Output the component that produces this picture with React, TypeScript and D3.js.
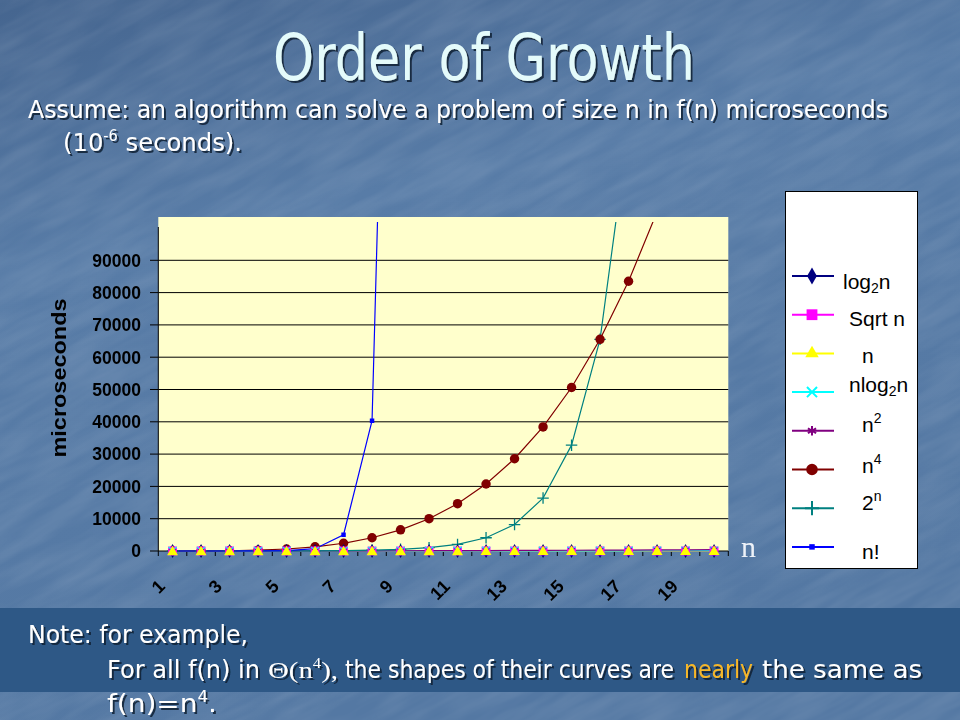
import * as d3 from 'd3';

// problem sizes on the x axis
const N = [1, 2, 3, 4, 5, 6, 7, 8, 9, 10, 11, 12, 13, 14, 15, 16, 17, 18, 19, 20];

// f(n) values, microseconds
const LOG2N = [0, 1, 1.58, 2, 2.32, 2.58, 2.81, 3, 3.17, 3.32, 3.46, 3.58, 3.7, 3.81, 3.91, 4, 4.09, 4.17, 4.25, 4.32];
const SQRTN = [1, 1.41, 1.73, 2, 2.24, 2.45, 2.65, 2.83, 3, 3.16, 3.32, 3.46, 3.61, 3.74, 3.87, 4, 4.12, 4.24, 4.36, 4.47];
const LINEAR = [1, 2, 3, 4, 5, 6, 7, 8, 9, 10, 11, 12, 13, 14, 15, 16, 17, 18, 19, 20];
const NLOG2N = [0, 2, 4.75, 8, 11.6, 15.5, 19.7, 24, 28.5, 33.2, 38.1, 43, 48.1, 53.3, 58.6, 64, 69.5, 75.1, 80.7, 86.4];
const NSQ = [1, 4, 9, 16, 25, 36, 49, 64, 81, 100, 121, 144, 169, 196, 225, 256, 289, 324, 361, 400];
const N4 = [1, 16, 81, 256, 625, 1296, 2401, 4096, 6561, 10000, 14641, 20736, 28561, 38416, 50625, 65536, 83521, 104976, 130321, 160000];
const POW2 = [2, 4, 8, 16, 32, 64, 128, 256, 512, 1024, 2048, 4096, 8192, 16384, 32768, 65536, 131072, 262144, 524288, 1048576];
const FACT = [1, 2, 6, 24, 120, 720, 5040, 40320, 362880, 3628800, 39916800, 479001600, 6227020800, 87178291200, 1.31e12, 2.09e13, 3.56e14, 6.4e15, 1.22e17, 2.43e18];

const Y_TICKS = [0, 10000, 20000, 30000, 40000, 50000, 60000, 70000, 80000, 90000];
const X_LABELS = [1, 3, 5, 7, 9, 11, 13, 15, 17, 19];

type Series = { key: string; values: number[]; color: string; symbol: d3.SymbolType; size: number; stroke?: number };

const SERIES: Series[] = [
  { key: 'log2n', values: LOG2N, color: '#000080', symbol: d3.symbolDiamond, size: 55 },
  { key: 'sqrt', values: SQRTN, color: '#ff00ff', symbol: d3.symbolSquare, size: 78 },
  { key: 'n', values: LINEAR, color: '#ffff00', symbol: d3.symbolTriangle, size: 52 },
  { key: 'nlog2n', values: NLOG2N, color: '#00ffff', symbol: d3.symbolTimes, size: 45, stroke: 1.3 },
  { key: 'n2', values: NSQ, color: '#800080', symbol: d3.symbolAsterisk, size: 42, stroke: 1 },
  { key: 'n4', values: N4, color: '#800000', symbol: d3.symbolCircle, size: 70 },
  { key: '2n', values: POW2, color: '#008080', symbol: d3.symbolPlus, size: 45, stroke: 1.3 },
  { key: 'nfact', values: FACT, color: '#0000ff', symbol: d3.symbolSquare, size: 20 },
];

// the small series sit on top of the big ones near zero
const MARKER_ORDER = ['nfact', '2n', 'n4', 'log2n', 'sqrt', 'nlog2n', 'n2', 'n'];

const LEGEND_LABELS: { dx: number; dy: number; main: string; sub?: string; sup?: string; tail?: string }[] = [
  { dx: 843, dy: 6, main: 'log', sub: '2', tail: 'n' },
  { dx: 849, dy: 4, main: 'Sqrt n' },
  { dx: 862, dy: 2, main: 'n' },
  { dx: 849, dy: -7, main: 'nlog', sub: '2', tail: 'n' },
  { dx: 862, dy: -6, main: 'n', sup: '2' },
  { dx: 862, dy: -4, main: 'n', sup: '4' },
  { dx: 862, dy: -6, main: '2', sup: 'n' },
  { dx: 862, dy: 5, main: 'n!' },
];

const PLOT = { left: 158.3, right: 728.3, top: 217, bottom: 551 };
const SANS = 'DejaVu Sans, Verdana, sans-serif';
const ARIAL = 'Liberation Sans, Arial, sans-serif';
const SQUEEZE = 0.88; // slide font is narrower than DejaVu

export default function App() {
  const x = d3.scaleBand<number>().domain(N).range([PLOT.left, PLOT.right]);
  const cx = (n: number) => (x(n) ?? 0) + x.bandwidth() / 2;
  const y = d3.scaleLinear().domain([0, 100000]).range([PLOT.bottom, 228]);

  const line = d3.line<number>()
    .x((_, i) => cx(N[i]))
    .y((v) => y(Math.min(v, 1e7)));

  const byKey = new Map(SERIES.map((s) => [s.key, s]));
  const legendY = (i: number) => 276 + i * 38.7;

  // one squeezed text run at (left, baseline), 'w' px wide on screen
  const run = (left: number, base: number, w: number, content: React.ReactNode, extra: Record<string, unknown> = {}) => (
    <g transform={`translate(${left}, ${base}) scale(${SQUEEZE}, 1)`}>
      <text x={0} y={0} textLength={w / SQUEEZE} lengthAdjust="spacingAndGlyphs" {...extra}>
        {content}
      </text>
    </g>
  );

  return (
    <svg width={960} height={720} style={{ position: 'absolute', left: 0, top: 0 }}>
      <defs>
        <linearGradient id="bg" x1="0" y1="0" x2="0.3" y2="1">
          <stop offset="0" stopColor="#45658f" />
          <stop offset="0.35" stopColor="#587ca7" />
          <stop offset="1" stopColor="#5478a3" />
        </linearGradient>
        <filter id="shadow" x="-5%" y="-20%" width="110%" height="140%">
          <feDropShadow dx="2" dy="2" stdDeviation="0.6" floodColor="#0a1a30" floodOpacity="0.85" />
        </filter>
        <filter id="grain">
          <feTurbulence type="fractalNoise" baseFrequency="0.012 0.07" numOctaves="3" seed="4" />
          <feColorMatrix type="matrix" values="0 0 0 0 1  0 0 0 0 1  0 0 0 0 1  0 0 0 0.4 -0.1" />
        </filter>
        <clipPath id="plotClip">
          <rect x={PLOT.left - 6} y={222} width={PLOT.right - PLOT.left + 12} height={360} />
        </clipPath>
      </defs>

      {/* slide background */}
      <rect width={960} height={720} fill="url(#bg)" />
      <rect x={-200} y={-200} width={1360} height={1120} filter="url(#grain)" opacity={0.4} transform="rotate(-28 480 360)" />
      <rect x={0} y={608} width={960} height={84} fill="#2e5886" />

      {/* title and text */}
      <g filter="url(#shadow)" fontFamily={SANS} fontSize={25} fill="#fff">
        {run(273, 80, 422, 'Order of Growth', { fontSize: 64, fill: '#e4fbfb' })}
        {run(28, 118, 860, 'Assume: an algorithm can solve a problem of size n in f(n) microseconds')}
        {run(63, 151, 179, <>(10<tspan fontSize={15} dy={-10}>-6</tspan><tspan dy={10}> seconds).</tspan></>)}
        {run(28, 643, 220, 'Note: for example,')}
        {run(107, 678, 153, 'For all f(n) in')}
        {run(268, 678, 70, <>Θ(n<tspan fontSize={14} dy={-10}>4</tspan><tspan dy={10}>),</tspan></>, { fontFamily: 'Liberation Serif, serif', fontSize: 24 })}
        {run(345, 678, 329, 'the shapes of their curves are')}
        {run(684, 678, 69, 'nearly', { fill: '#f5b72a' })}
        {run(762, 678, 160, 'the same as')}
        {run(107, 712, 110, <>f(n)=n<tspan fontSize={15} dy={-10}>4</tspan><tspan dy={10}>.</tspan></>)}
      </g>

      {/* plot area */}
      <rect x={PLOT.left} y={PLOT.top} width={PLOT.right - PLOT.left} height={PLOT.bottom - PLOT.top} fill="#ffffcc" />
      {Y_TICKS.filter((t) => t > 0).map((t) => (
        <line key={t} x1={PLOT.left} x2={PLOT.right} y1={y(t)} y2={y(t)} stroke="#000" strokeWidth={1} />
      ))}

      {/* y axis */}
      <line x1={PLOT.left} x2={PLOT.left} y1={y(100000) - 1} y2={PLOT.bottom} stroke="#000" />
      {Y_TICKS.map((t) => (
        <g key={t}>
          <line x1={150} x2={PLOT.left} y1={y(t)} y2={y(t)} stroke="#000" />
          <text x={141} y={y(t)} dy="0.36em" textAnchor="end" fontFamily={ARIAL} fontWeight="bold" fontSize={17.5} fill="#000">
            {t}
          </text>
        </g>
      ))}
      <text
        transform={`translate(66, ${378}) rotate(-90)`}
        textAnchor="middle"
        fontFamily={ARIAL}
        fontWeight="bold"
        fontSize={20}
        fill="#000"
        textLength={159}
        lengthAdjust="spacingAndGlyphs"
      >
        microseconds
      </text>

      {/* x axis */}
      <line x1={PLOT.left} x2={PLOT.right} y1={PLOT.bottom} y2={PLOT.bottom} stroke="#000" />
      {[...N.map((n) => x(n) ?? 0), PLOT.right].map((bx, i) => (
        <line key={i} x1={bx} x2={bx} y1={PLOT.bottom} y2={PLOT.bottom + 5} stroke="#000" />
      ))}
      {X_LABELS.map((n) => (
        <text
          key={n}
          transform={`translate(${cx(n) - 11}, ${583}) rotate(-45)`}
          textAnchor="end"
          dy="0.35em"
          fontFamily={ARIAL}
          fontWeight="bold"
          fontSize={18}
          fill="#000"
        >
          {n}
        </text>
      ))}
      <text x={741} y={557} fontFamily="Liberation Serif, Times New Roman, serif" fontSize={30} fill="#eef2f8">
        n
      </text>

      {/* series */}
      <g clipPath="url(#plotClip)">
        {SERIES.map((s) => (
          <path key={s.key} d={line(s.values) ?? ''} fill="none" stroke={s.color} strokeWidth={1.2} />
        ))}
        {MARKER_ORDER.map((k) => {
          const s = byKey.get(k)!;
          const sym = d3.symbol().type(s.symbol).size(s.size)();
          return (
            <g key={k}>
              {s.values.map((v, i) =>
                v <= 100000 ? (
                  <path
                    key={i}
                    d={sym ?? ''}
                    transform={`translate(${cx(N[i])}, ${y(v) + (k === 'n' ? 1 : 0)})`}
                    fill={s.stroke ? 'none' : s.color}
                    stroke={s.color}
                    strokeWidth={s.stroke ?? 0}
                  />
                ) : null
              )}
            </g>
          );
        })}
      </g>

      {/* legend */}
      <rect x={785.5} y={191.5} width={132} height={377} fill="#fff" stroke="#000" />
      {SERIES.map((s, i) => {
        const ly = legendY(i);
        const sym = d3.symbol().type(s.symbol).size(s.size * 1.5)();
        const lab = LEGEND_LABELS[i];
        return (
          <g key={s.key}>
            <line x1={792} x2={834} y1={ly} y2={ly} stroke={s.color} strokeWidth={2} />
            <path
              d={sym ?? ''}
              transform={`translate(812, ${ly})`}
              fill={s.stroke ? 'none' : s.color}
              stroke={s.color}
              strokeWidth={s.stroke ? 2 : 0}
            />
            <text x={lab.dx} y={ly + lab.dy} dy="0.35em" fontFamily={ARIAL} fontSize={21} fill="#000">
              {lab.main}
              {lab.sub ? <tspan fontSize={14} dy={4}>{lab.sub}</tspan> : null}
              {lab.sup ? <tspan fontSize={14} dy={-9}>{lab.sup}</tspan> : null}
              {lab.tail ? <tspan dy={lab.sub ? -4 : 9}>{lab.tail}</tspan> : null}
            </text>
          </g>
        );
      })}
    </svg>
  );
}
